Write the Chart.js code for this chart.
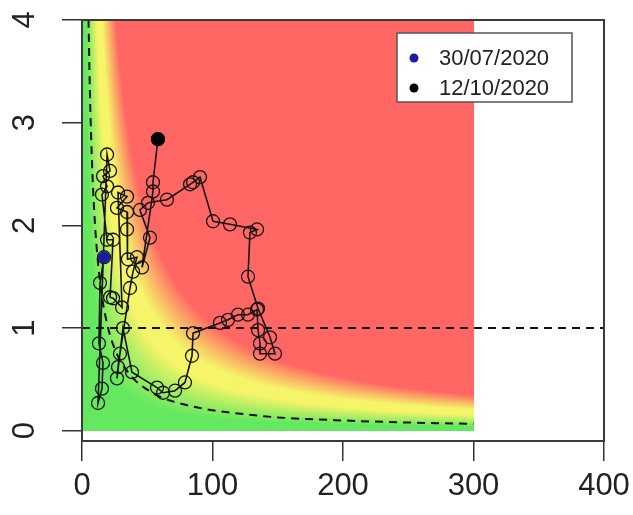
<!DOCTYPE html>
<html>
<head>
<meta charset="utf-8">
<script src="https://cdn.jsdelivr.net/npm/chart.js@4.4.0/dist/chart.umd.min.js"></script>
<style>
  html, body { margin: 0; padding: 0; background: #fff; }
</style>
</head>
<body>
<canvas id="myChart" width="633" height="515"></canvas>
<script>
// trajectory (attack rate vs growth), 30/07/2020 -> 12/10/2020
var pathX = [16.9, 13.8, 13.0, 16.1, 15.3, 12.3, 19.2, 21.5, 16.1, 19.2,
             15.3, 19.2, 23.8, 21.5, 23.8, 30.7, 27.6, 34.5, 26.8, 34.5,
             34.5, 35.2, 42.1, 39.1, 36.8, 29.1, 27.6, 26.8, 31.4, 38.3,
             57.5, 62.1, 71.3, 78.9, 84.3, 85.1, 105.7, 111.9, 119.5, 127.2,
             134.1, 134.9, 136.4, 136.4, 147.9, 144.1, 134.9, 127.2, 128.7, 134.1,
             113.4, 100.4, 90.4, 85.1, 82.8, 65.1, 50.6, 44.4, 52.1, 46.0,
             54.4, 54.4, 58.2];
var pathY = [1.69, 1.44, 0.85, 0.66, 0.41, 0.27, 2.69, 2.53, 2.48, 2.38,
             2.30, 1.86, 1.86, 1.30, 1.29, 1.20, 2.32, 2.28, 2.17, 2.13,
             1.96, 1.67, 1.69, 1.55, 1.39, 0.75, 0.62, 0.51, 1.00, 0.57,
             0.42, 0.37, 0.39, 0.47, 0.73, 0.95, 1.05, 1.08, 1.13, 1.13,
             1.18, 0.98, 0.85, 0.75, 0.75, 0.91, 1.19, 1.50, 1.93, 1.96,
             2.01, 2.04, 2.47, 2.42, 2.40, 2.25, 2.22, 2.15, 1.88, 1.59,
             2.33, 2.42, 2.84];
var startLabel = "30/07/2020";
var endLabel = "12/10/2020";

// dashed threshold curve
var curveX = [5, 6, 7, 8, 10, 12, 15, 20, 25, 30, 40, 50, 60, 80, 100, 125, 150, 200, 250, 300];
var curveY = [4.0, 3.33, 2.86, 2.5, 2.0, 1.67, 1.33, 1.0, 0.8, 0.67, 0.5, 0.4, 0.33, 0.25, 0.2, 0.16, 0.13, 0.1, 0.08, 0.067];
// dashed horizontal line
var refX = [0, 400];
var refY = [1, 1];

var xTicks = [0, 100, 200, 300, 400];
var yTicks = [0, 1, 2, 3, 4];

// coloured risk area
var bgMaxX = 300;
var bgMaxY = 4;

function pts(xs, ys) {
  return xs.map(function (x, i) { return { x: x, y: ys[i] }; });
}

function mix(a, b, t) {
  return [a[0] + (b[0] - a[0]) * t, a[1] + (b[1] - a[1]) * t, a[2] + (b[2] - a[2]) * t];
}

function riskColor(p) {
  var green = [100, 232, 96], yellow = [246, 244, 104], red = [255, 102, 100];
  if (p <= 12) return green;
  if (p <= 46) return mix(green, yellow, (p - 12) / 34);
  if (p <= 62) return yellow;
  if (p <= 104) return mix(yellow, red, (p - 62) / 42);
  return red;
}

// narrow font if available, the R labels look tall and narrow
function hasFont(name) {
  var c = document.createElement("canvas").getContext("2d");
  c.font = "40px monospace";
  var a = c.measureText("0123456789abc").width;
  c.font = "40px '" + name + "', monospace";
  var b = c.measureText("0123456789abc").width;
  return a !== b;
}
var tickFont = hasFont("Liberation Sans Narrow")
  ? { family: "'Liberation Sans Narrow'", size: 37 }
  : { family: "'Liberation Sans', Arial, sans-serif", size: 31 };

var riskBackground = {
  id: "riskBackground",
  beforeDatasetsDraw: function (chart) {
    var xs = chart.scales.x, ys = chart.scales.y;
    var x0 = Math.round(xs.getPixelForValue(0)), x1 = Math.round(xs.getPixelForValue(bgMaxX));
    var y0 = Math.round(ys.getPixelForValue(bgMaxY)), y1 = Math.round(ys.getPixelForValue(0));
    var w = x1 - x0, h = y1 - y0;
    var off = document.createElement("canvas");
    off.width = w;
    off.height = h;
    var octx = off.getContext("2d");
    var img = octx.createImageData(w, h);
    for (var j = 0; j < h; j++) {
      var yv = ys.getValueForPixel(y0 + j + 0.5);
      for (var i = 0; i < w; i++) {
        var xv = xs.getValueForPixel(x0 + i + 0.5);
        var c = riskColor(xv * yv);
        var k = (j * w + i) * 4;
        img.data[k] = c[0];
        img.data[k + 1] = c[1];
        img.data[k + 2] = c[2];
        img.data[k + 3] = 255;
      }
    }
    octx.putImageData(img, 0, 0);
    chart.ctx.drawImage(off, x0, y0);
  }
};

var boxAndLegend = {
  id: "boxAndLegend",
  afterDraw: function (chart) {
    var ctx = chart.ctx, a = chart.chartArea;
    ctx.save();
    ctx.strokeStyle = "#3a3a3a";
    ctx.lineWidth = 2;
    ctx.strokeRect(a.left, a.top, a.right - a.left, a.bottom - a.top);

    // legend box, top right
    var lw = 175, lh = 69;
    var lx = a.right - 32 - lw, ly = a.top + 13;
    ctx.fillStyle = "#fff";
    ctx.fillRect(lx, ly, lw, lh);
    ctx.strokeStyle = "#555";
    ctx.lineWidth = 1.5;
    ctx.strokeRect(lx, ly, lw, lh);
    var items = [chart.data.datasets[0], chart.data.datasets[1]];
    ctx.font = "22px 'Liberation Sans', Arial, sans-serif";
    ctx.textBaseline = "middle";
    ctx.textAlign = "left";
    items.forEach(function (ds, i) {
      var cy = ly + 25 + i * 30;
      ctx.beginPath();
      ctx.arc(lx + 17, cy, 4.5, 0, Math.PI * 2);
      ctx.fillStyle = ds.backgroundColor;
      ctx.fill();
      ctx.fillStyle = "#222";
      ctx.fillText(ds.label, lx + 42, cy + 1);
    });
    ctx.restore();
  }
};

function noPad(s) {
  s.paddingTop = 0;
  s.paddingBottom = 0;
  s.paddingLeft = 0;
  s.paddingRight = 0;
}

new Chart("myChart", {
  type: "scatter",
  data: {
    datasets: [
      {
        label: startLabel,
        data: [{ x: pathX[0], y: pathY[0] }],
        backgroundColor: "#1c1ca0",
        borderColor: "#1c1ca0",
        pointRadius: 5.5,
        showLine: false,
      },
      {
        label: endLabel,
        data: [{ x: pathX[pathX.length - 1], y: pathY[pathY.length - 1] }],
        backgroundColor: "#000000",
        borderColor: "#000000",
        pointRadius: 6.5,
        showLine: false,
      },
      {
        label: "trajectory",
        data: pts(pathX, pathY),
        showLine: true,
        borderColor: "#151515",
        borderWidth: 1.6,
        pointRadius: 6.5,
        pointBorderWidth: 1.3,
        pointBorderColor: "#151515",
        pointBackgroundColor: "rgba(0,0,0,0)",
      },
      {
        label: "threshold",
        data: pts(curveX, curveY),
        showLine: true,
        borderColor: "#111111",
        borderWidth: 2,
        borderDash: [8, 6],
        pointRadius: 0,
        cubicInterpolationMode: "monotone",
      },
      {
        label: "rho = 1",
        data: pts(refX, refY),
        showLine: true,
        borderColor: "#111111",
        borderWidth: 2,
        borderDash: [8, 6],
        pointRadius: 0,
      },
    ],
  },
  options: {
    responsive: false,
    animation: false,
    devicePixelRatio: 1,
    layout: { padding: { top: 20, right: 29, left: 0, bottom: 0 } },
    plugins: {
      legend: { display: false },
      tooltip: { enabled: false },
    },
    scales: {
      x: {
        type: "linear",
        min: 0,
        max: 400,
        afterBuildTicks: function (s) {
          s.ticks = xTicks.map(function (v) { return { value: v }; });
        },
        afterFit: function (s) { s.height = 74; noPad(s); },
        border: { display: false },
        grid: { drawOnChartArea: false, drawTicks: true, tickLength: 20, color: "#333", lineWidth: 1.5 },
        ticks: { font: tickFont, color: "#222", padding: 7, maxRotation: 0 },
      },
      y: {
        type: "linear",
        min: -0.1,
        max: 4,
        afterBuildTicks: function (s) {
          s.ticks = yTicks.map(function (v) { return { value: v }; });
        },
        afterFit: function (s) { s.width = 82; noPad(s); },
        border: { display: false },
        grid: { drawOnChartArea: false, drawTicks: true, tickLength: 20, color: "#333", lineWidth: 1.5 },
        ticks: { font: tickFont, color: "#222", padding: 28, minRotation: 90, maxRotation: 90, crossAlign: "center" },
      },
    },
  },
  plugins: [riskBackground, boxAndLegend],
});
</script>
</body>
</html>
